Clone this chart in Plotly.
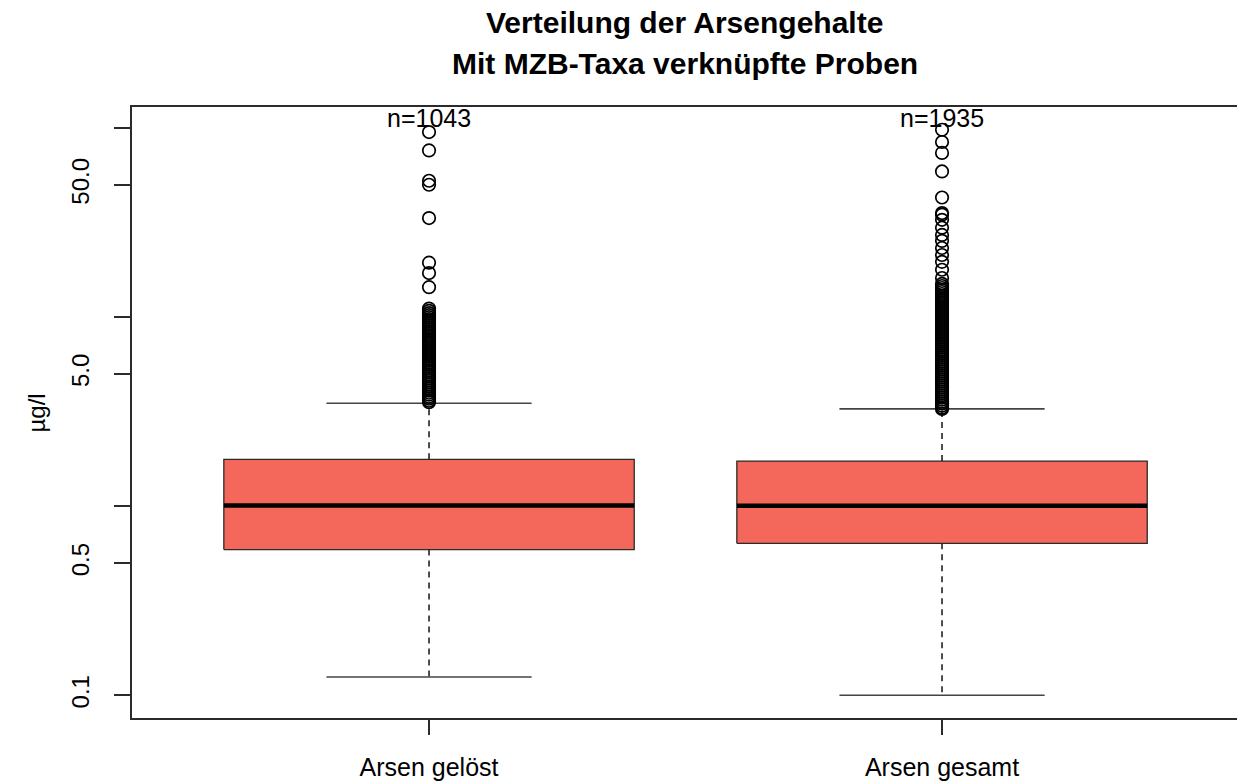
import plotly.graph_objects as go

# ---------------- data ----------------
categories = ["Arsen gelöst", "Arsen gesamt"]
n_counts = [1043, 1935]
lower_whisker = [0.125, 0.100]
q1 = [0.590, 0.636]
median = [1.01, 1.005]
q3 = [1.77, 1.733]
upper_whisker = [3.50, 3.27]

outliers_geloest = [
    95.2, 76.1, 52.6, 50.1, 33.4, 19.4, 17.1, 14.4,
    11.1, 10.8, 10.5, 10.25, 10.0, 9.76, 9.53, 9.3, 9.08, 8.86, 8.65, 8.44,
    8.24, 8.04, 7.85, 7.66, 7.48, 7.3, 7.12, 6.95, 6.79, 6.62, 6.47, 6.31,
    6.16, 6.01, 5.87, 5.73, 5.59, 5.46, 5.33, 5.2, 5.08, 4.95, 4.84, 4.72,
    4.61, 4.5, 4.39, 4.28, 4.18, 4.08, 3.98, 3.89, 3.79, 3.7, 3.61, 3.55,
]
outliers_gesamt = [
    97.9, 84.3, 73.8, 58.9, 42.9, 35.5, 34.8, 32.7, 29.7, 27.2, 25.3, 23.2,
    21.3, 19.6, 17.8, 16.1, 15.0,
    14.6, 14.25, 13.9, 13.57, 13.25, 12.93, 12.62, 12.32, 12.02, 11.73,
    11.45, 11.18, 10.91, 10.65, 10.39, 10.14, 9.9, 9.66, 9.43, 9.2, 8.98,
    8.77, 8.56, 8.35, 8.15, 7.96, 7.77, 7.58, 7.4, 7.22, 7.05, 6.88, 6.71,
    6.55, 6.39, 6.24, 6.09, 5.95, 5.8, 5.66, 5.53, 5.4, 5.27, 5.14, 5.02,
    4.9, 4.78, 4.67, 4.56, 4.45, 4.34, 4.24, 4.13, 4.03, 3.94, 3.84, 3.75,
    3.66, 3.57, 3.49, 3.4, 3.32, 3.27,
]
outliers = [outliers_geloest, outliers_gesamt]

y_tickvals = [0.1, 0.5, 1, 5, 10, 50, 100]
y_ticktext = ["0.1", "0.5", "", "5.0", "", "50.0", ""]

title_lines = ["Verteilung der Arsengehalte", "Mit MZB-Taxa verknüpfte Proben"]

# ---------------- style ----------------
FONT = "Liberation Sans, Arial, Helvetica, sans-serif"
BOX_FILL = "#F4675B"
LINE = "#2b2b2b"
BOX_HALF = 0.4
CAP_HALF = 0.2

fig = go.Figure()

for i, cat in enumerate(categories):
    pos = i + 1
    # box body
    fig.add_trace(go.Scatter(
        x=[pos - BOX_HALF, pos + BOX_HALF, pos + BOX_HALF, pos - BOX_HALF, pos - BOX_HALF],
        y=[q1[i], q1[i], q3[i], q3[i], q1[i]],
        mode="lines", fill="toself", fillcolor=BOX_FILL,
        line=dict(color=LINE, width=1.3), hoverinfo="skip", showlegend=False))
    # median
    fig.add_trace(go.Scatter(
        x=[pos - BOX_HALF, pos + BOX_HALF], y=[median[i], median[i]],
        mode="lines", line=dict(color="black", width=4.5),
        hoverinfo="skip", showlegend=False))
    # dashed whiskers
    for a, b in ((q3[i], upper_whisker[i]), (q1[i], lower_whisker[i])):
        fig.add_trace(go.Scatter(
            x=[pos, pos], y=[a, b], mode="lines",
            line=dict(color="#222222", width=1.6, dash="6px,5px"),
            hoverinfo="skip", showlegend=False))
    # caps
    for v in (upper_whisker[i], lower_whisker[i]):
        fig.add_trace(go.Scatter(
            x=[pos - CAP_HALF, pos + CAP_HALF], y=[v, v], mode="lines",
            line=dict(color="#444444", width=1.6),
            hoverinfo="skip", showlegend=False))
    # outliers
    fig.add_trace(go.Scatter(
        x=[pos] * len(outliers[i]), y=outliers[i], mode="markers",
        marker=dict(symbol="circle-open", size=12.5, color="black",
                    line=dict(color="black", width=1.7)),
        hoverinfo="y", showlegend=False))
    # n labels
    fig.add_annotation(
        x=pos, xref="x", y=0.982, yref="paper", text=f"n={n_counts[i]}",
        showarrow=False, xanchor="center", yanchor="middle",
        font=dict(family=FONT, size=25, color="black"))

# title (two lines); plot area top at 107 px, height 611 px
for txt, yy in zip(title_lines, [1.139, 1.072]):
    fig.add_annotation(
        x=0.5, xref="paper", y=yy, yref="paper", text=f"<b>{txt}</b>",
        showarrow=False, xanchor="center", yanchor="middle",
        font=dict(family=FONT, size=30, color="black"))

# y axis title
fig.add_annotation(
    x=-0.086, xref="paper", y=0.5, yref="paper", text="µg/l", textangle=-90,
    showarrow=False, xanchor="center", yanchor="middle",
    font=dict(family=FONT, size=24, color="black"))

fig.update_layout(
    width=1237, height=781, autosize=False,
    margin=dict(l=132, r=0, t=107, b=63),
    paper_bgcolor="white", plot_bgcolor="white",
    xaxis=dict(
        range=[0.421, 2.575], tickvals=[1, 2], ticktext=categories,
        showgrid=False, zeroline=False,
        showline=True, linecolor=LINE, linewidth=1.5, mirror=True,
        ticks="outside", ticklen=15, tickwidth=1.5, tickcolor=LINE,
        ticklabelstandoff=11,
        tickfont=dict(family=FONT, size=25, color="black")),
    yaxis=dict(
        type="log", range=[-1.120, 2.111],
        tickvals=y_tickvals, ticktext=y_ticktext, tickangle=-90,
        showgrid=False, zeroline=False,
        showline=True, linecolor=LINE, linewidth=1.5, mirror=False,
        ticks="outside", ticklen=16, tickwidth=1.5, tickcolor=LINE,
        ticklabelstandoff=16,
        tickfont=dict(family=FONT, size=24, color="black")),
)

fig.write_html(
    "out.html",
    config={"displayModeBar": False},
    post_script="document.body.style.margin='0';document.body.style.overflow='hidden';",
)
